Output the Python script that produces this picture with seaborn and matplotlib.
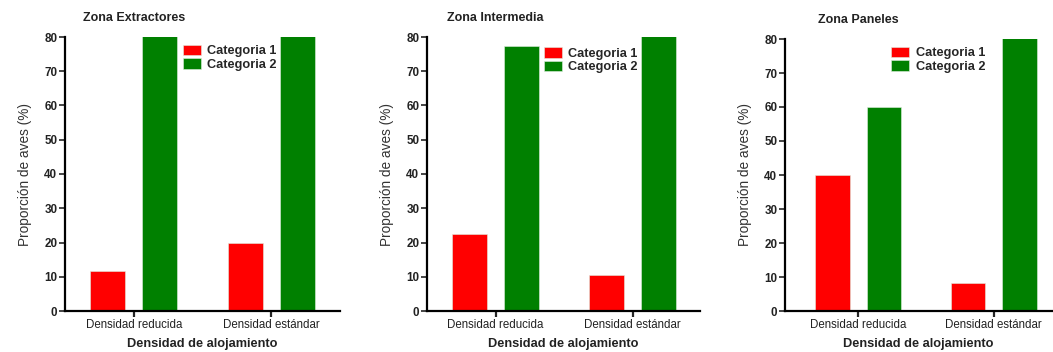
import matplotlib
matplotlib.use("Agg")
import matplotlib.pyplot as plt
import seaborn as sns
import pandas as pd

sns.set_style("ticks")
plt.rcParams['font.family'] = ['Liberation Sans', 'DejaVu Sans']

zones = ["Zona Extractores", "Zona Intermedia", "Zona Paneles"]
densities = ["Densidad reducida", "Densidad estándar"]
series_names = ["Categoria 1", "Categoria 2"]
cat1_values = [[11.8, 19.8], [22.6, 10.6], [40.0, 8.2]]
cat2_values = [[88.2, 80.2], [77.4, 89.4], [60.0, 91.8]]
colors = ["#FF0000", "#008000"]

fig = plt.figure(figsize=(10.53, 3.52), dpi=100)
# axes rectangles in pixels: left, right, top, bottom
rects = [(65, 340, 37, 311), (427, 700, 37, 311), (785, 1052, 39, 311)]
xlims = [(-0.5, 1.5), (-0.5, 1.49), (-0.54, 1.43)]
legend_pos = [(0.40, 1.0), (0.40, 0.99), (0.37, 1.0)]

for i, zone in enumerate(zones):
    l, r, t, b = rects[i]
    ax = fig.add_axes([l / 1053, 1 - b / 352, (r - l) / 1053, (b - t) / 352])
    rows = []
    for j, d in enumerate(densities):
        rows.append({"Densidad": d, "Serie": series_names[0], "Valor": cat1_values[i][j]})
        rows.append({"Densidad": d, "Serie": series_names[1], "Valor": cat2_values[i][j]})
    df = pd.DataFrame(rows)
    sns.barplot(data=df, x="Densidad", y="Valor", hue="Serie", order=densities,
                hue_order=series_names, palette=colors, width=0.76, gap=0.33,
                saturation=1, errorbar=None, ax=ax, edgecolor="#dfeedf", linewidth=0.4)
    ax.set_ylim(0, 80)
    ax.set_xlim(*xlims[i])
    ax.set_yticks(range(0, 81, 10))
    ax.set_yticklabels([str(v) for v in range(0, 81, 10)], fontsize=8.4, fontweight="bold",
                       color="#222222")
    for s in ["top", "right"]:
        ax.spines[s].set_visible(False)
    for s in ["left", "bottom"]:
        ax.spines[s].set_linewidth(1.6)
        ax.spines[s].set_color("black")
    ax.tick_params(axis="y", length=4, width=1.2, pad=1.5)
    ax.tick_params(axis="x", length=4, width=1.6, labelsize=8.3, pad=2, labelcolor="#222222")
    ax.set_ylabel("Proporción de aves (%)", fontsize=9.8, color="#333333", labelpad=9)
    ax.set_xlabel("Densidad de alojamiento", fontsize=9.2, fontweight="semibold",
                  color="#222222", labelpad=5)
    ax.text(0, 1.07, zone, transform=ax.get_xaxis_transform(),
            ha="center", va="center", fontsize=9, fontweight="bold", color="#222222")
    handles, labels = ax.get_legend_handles_labels()
    ax.legend(handles, labels, loc="upper left", bbox_to_anchor=legend_pos[i], frameon=False,
              handlelength=1.4, handleheight=0.9, handletextpad=0.5,
              labelspacing=0.05, borderaxespad=0.2, prop={"weight": "semibold", "size": 9.2})

fig.savefig("out.png", dpi=100)
